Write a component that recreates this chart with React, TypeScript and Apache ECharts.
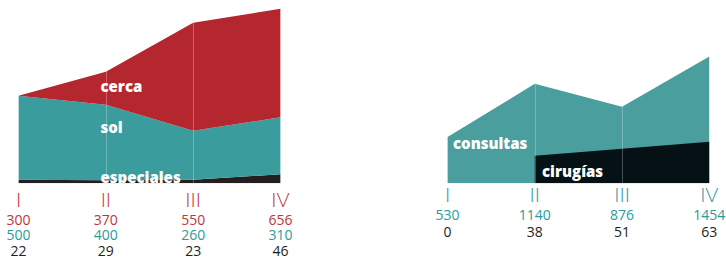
import React, { useEffect, useRef } from "react";
import * as echarts from "echarts";

// Left panel
const quarters = ["I", "II", "III", "IV"];
const cercaValues = [300, 370, 550, 656];
const solValues = [500, 400, 260, 310];
const especialesValues = [22, 29, 23, 46];
// Drawn band thicknesses (axis units, max 180)
const cercaBand = [0, 33, 108, 108.5];
const solBand = [84, 75.5, 49, 57];
const especialesBand = [3.5, 3, 3.5, 9];

// Right panel
const consultasValues = [530, 1140, 876, 1454];
const cirugiasValues = [0, 38, 51, 63];
// Drawn height of the cirugías band (axis units of the right panel)
const cirugiasBand: (number | null)[] = [null, 315, 395, 477];

const RED = "#b4272e";
const TEAL_L = "#3a9c9d";
const DARK_L = "#231f20";
const TEAL_R = "#4a9f9e";
const DARK_R = "#051115";

const LBL_RED = "#c1353c";
const LBL_TEAL = "#2c9a9a";
const LBL_DARK = "#231f20";

const numFont = "Open Sans";
const romanFont = "Lato";

export default function App() {
  const ref = useRef<HTMLDivElement>(null);
  useEffect(() => {
    if (!ref.current) return;
    const chart = echarts.init(ref.current, null, { renderer: "svg" });
    const area = (color: string) => ({
      type: "line" as const,
      symbol: "none",
      showSymbol: false,
      lineStyle: { width: 0 },
      areaStyle: { color, opacity: 1 },
      itemStyle: { color },
      silent: true,
    });
    const labelText = (t: string, x: number, y: number) => ({
      type: "text",
      x,
      y,
      z: 100,
      style: {
        text: t,
        fill: "#ffffff",
        font: `800 15px "${numFont}"`,
        textAlign: "left",
        textVerticalAlign: "middle",
      },
    });
    chart.setOption({
      animation: false,
      grid: [
        { left: 18.5, right: 445.5, top: 3.3, bottom: 74.7, outerBoundsMode: "none", containLabel: false },
        { left: 447.5, right: 16.7, top: 39.3, bottom: 74.7, outerBoundsMode: "none", containLabel: false },
      ],
      xAxis: [
        {
          type: "category",
          gridIndex: 0,
          data: quarters,
          boundaryGap: false,
          z: 5,
          axisLine: { show: false },
          axisTick: { show: false },
          splitLine: { show: true, interval: 0, lineStyle: { color: "rgba(255,255,255,0.28)", width: 1 } },
          axisLabel: {
            interval: 0,
            margin: 3.5,
            formatter: (v: string, i: number) =>
              `{n|${v}}\n{a|${cercaValues[i]}}\n{b|${solValues[i]}}\n{c|${especialesValues[i]}}`,
            rich: {
              n: { fontFamily: romanFont, fontWeight: 300, fontSize: 20, color: LBL_RED, lineHeight: 24.5 },
              a: { fontFamily: numFont, fontSize: 14, color: LBL_RED, lineHeight: 15.5 },
              b: { fontFamily: numFont, fontSize: 14, color: LBL_TEAL, lineHeight: 15.5 },
              c: { fontFamily: numFont, fontSize: 14, color: LBL_DARK, lineHeight: 15.5 },
            },
          },
        },
        {
          type: "category",
          gridIndex: 1,
          data: quarters,
          boundaryGap: false,
          z: 5,
          axisLine: { show: false },
          axisTick: { show: false },
          splitLine: { show: true, interval: 0, lineStyle: { color: "rgba(255,255,255,0.25)", width: 1 } },
          axisLabel: {
            interval: 0,
            margin: -2,
            formatter: (v: string, i: number) =>
              `{n|${v}}\n{b|${consultasValues[i]}}\n{c|${cirugiasValues[i]}}`,
            rich: {
              n: { fontFamily: romanFont, fontWeight: 300, fontSize: 20, color: LBL_TEAL, lineHeight: 25.3 },
              b: { fontFamily: numFont, fontSize: 14, color: LBL_TEAL, lineHeight: 16.3 },
              c: { fontFamily: numFont, fontSize: 14, color: LBL_DARK, lineHeight: 16.3 },
            },
          },
        },
      ],
      yAxis: [
        { type: "value", gridIndex: 0, min: 0, max: 180, show: false },
        { type: "value", gridIndex: 1, min: 0, max: 1650, show: false },
      ],
      series: [
        { ...area(DARK_L), name: "especiales", xAxisIndex: 0, yAxisIndex: 0, stack: "l", data: especialesBand },
        { ...area(TEAL_L), name: "sol", xAxisIndex: 0, yAxisIndex: 0, stack: "l", data: solBand },
        { ...area(RED), name: "cerca", xAxisIndex: 0, yAxisIndex: 0, stack: "l", data: cercaBand },
        { ...area(TEAL_R), name: "consultas", xAxisIndex: 1, yAxisIndex: 1, data: consultasValues },
        { ...area(DARK_R), name: "cirugías", xAxisIndex: 1, yAxisIndex: 1, data: cirugiasBand, connectNulls: false },
      ],
      graphic: [
        labelText("cerca", 100.5, 85.5),
        labelText("sol", 100.5, 126.5),
        labelText("especiales", 100.5, 177),
        labelText("consultas", 453, 142.8),
        labelText("cirugías", 542, 171),
      ],
    });
    return () => chart.dispose();
  }, []);
  return (
    <div
      ref={ref}
      style={{ position: "fixed", left: 0, top: 0, width: 726, height: 258, background: "#ffffff" }}
    />
  );
}
